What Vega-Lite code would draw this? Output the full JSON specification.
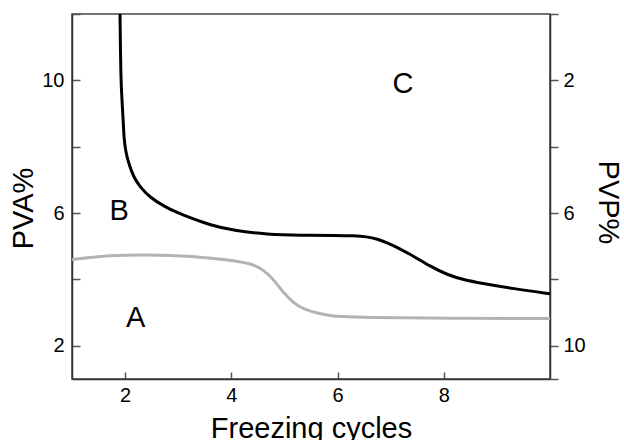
{
  "$schema": "https://vega.github.io/schema/vega-lite/v6.json",
  "width": 478,
  "height": 365,
  "autosize": {"type": "none"},
  "padding": {"left": 72, "top": 14, "right": 74, "bottom": 61},
  "background": "white",
  "config": {
    "view": {"stroke": "#444", "strokeWidth": 1.5},
    "font": "Liberation Sans",
    "axis": {
      "grid": false,
      "domainColor": "#333",
      "domainWidth": 1.5,
      "tickColor": "#555",
      "tickWidth": 1.5,
      "labelColor": "#000",
      "titleColor": "#000",
      "labelFont": "Liberation Sans",
      "titleFont": "Liberation Sans",
      "labelFontSize": 20,
      "titleFontSize": 29,
      "titleFontWeight": "normal",
      "labelFlush": false,
      "labelOverlap": false
    }
  },
  "datasets": {
    "curves": [
      {"curve": "black", "cycles": 1.904, "pva": 12.0},
      {"curve": "black", "cycles": 1.919, "pva": 10.0},
      {"curve": "black", "cycles": 1.945, "pva": 9.3},
      {"curve": "black", "cycles": 1.964, "pva": 8.79},
      {"curve": "black", "cycles": 1.978, "pva": 8.28},
      {"curve": "black", "cycles": 2.007, "pva": 7.88},
      {"curve": "black", "cycles": 2.07, "pva": 7.48},
      {"curve": "black", "cycles": 2.164, "pva": 7.07},
      {"curve": "black", "cycles": 2.29, "pva": 6.77},
      {"curve": "black", "cycles": 2.478, "pva": 6.46},
      {"curve": "black", "cycles": 2.73, "pva": 6.21},
      {"curve": "black", "cycles": 2.98, "pva": 6.01},
      {"curve": "black", "cycles": 3.23, "pva": 5.86},
      {"curve": "black", "cycles": 3.6, "pva": 5.64},
      {"curve": "black", "cycles": 4.04, "pva": 5.47},
      {"curve": "black", "cycles": 4.68, "pva": 5.36},
      {"curve": "black", "cycles": 5.30, "pva": 5.33},
      {"curve": "black", "cycles": 6.0, "pva": 5.33},
      {"curve": "black", "cycles": 6.3, "pva": 5.32},
      {"curve": "black", "cycles": 6.55, "pva": 5.29},
      {"curve": "black", "cycles": 6.75, "pva": 5.22},
      {"curve": "black", "cycles": 6.95, "pva": 5.10},
      {"curve": "black", "cycles": 7.12, "pva": 4.97},
      {"curve": "black", "cycles": 7.436, "pva": 4.70},
      {"curve": "black", "cycles": 7.75, "pva": 4.39},
      {"curve": "black", "cycles": 8.065, "pva": 4.14},
      {"curve": "black", "cycles": 8.377, "pva": 3.99},
      {"curve": "black", "cycles": 8.69, "pva": 3.89},
      {"curve": "black", "cycles": 9.32, "pva": 3.72},
      {"curve": "black", "cycles": 10.0, "pva": 3.57},
      {"curve": "gray", "cycles": 1.0, "pva": 4.60},
      {"curve": "gray", "cycles": 1.72, "pva": 4.73},
      {"curve": "gray", "cycles": 2.35, "pva": 4.75},
      {"curve": "gray", "cycles": 3.29, "pva": 4.71},
      {"curve": "gray", "cycles": 3.98, "pva": 4.58},
      {"curve": "gray", "cycles": 4.355, "pva": 4.49},
      {"curve": "gray", "cycles": 4.61, "pva": 4.29},
      {"curve": "gray", "cycles": 4.80, "pva": 3.99},
      {"curve": "gray", "cycles": 4.99, "pva": 3.58},
      {"curve": "gray", "cycles": 5.18, "pva": 3.28},
      {"curve": "gray", "cycles": 5.36, "pva": 3.10},
      {"curve": "gray", "cycles": 5.62, "pva": 2.98},
      {"curve": "gray", "cycles": 5.87, "pva": 2.91},
      {"curve": "gray", "cycles": 6.06, "pva": 2.88},
      {"curve": "gray", "cycles": 6.49, "pva": 2.85},
      {"curve": "gray", "cycles": 8.13, "pva": 2.83},
      {"curve": "gray", "cycles": 10.0, "pva": 2.82}
    ],
    "labels": [
      {"cycles": 2.20, "pva": 2.83, "region": "A"},
      {"cycles": 1.89, "pva": 6.05, "region": "B"},
      {"cycles": 7.23, "pva": 9.90, "region": "C"}
    ],
    "pvp": [
      {"pvp": 0},
      {"pvp": 11}
    ]
  },
  "layer": [
    {
      "layer": [
        {
          "data": {"name": "curves"},
          "mark": {"type": "line", "interpolate": "basis", "strokeWidth": 3, "clip": true},
          "encoding": {
            "x": {
              "field": "cycles", "type": "quantitative",
              "scale": {"domain": [1, 10], "nice": false, "zero": false},
              "axis": {
                "values": [2, 4, 6, 8],
                "tickSize": -7,
                "labelPadding": 13,
                "title": "Freezing cycles",
                "titleX": 239,
                "titleY": 58,
                "titleBaseline": "alphabetic",
                "titleAlign": "center"
              }
            },
            "y": {
              "field": "pva", "type": "quantitative",
              "scale": {"domain": [1, 12], "nice": false, "zero": false},
              "axis": {
                "orient": "left",
                "values": [2, 4, 6, 8, 10, 12],
                "labelExpr": "datum.value == 2 || datum.value == 6 || datum.value == 10 ? datum.label : ''",
                "tickSize": -8,
                "labelPadding": 16,
                "title": "PVA%",
                "titleAngle": -90,
                "titleX": -49,
                "titleY": 194,
                "titleAlign": "center",
                "titleBaseline": "middle"
              }
            },
            "color": {
              "field": "curve", "type": "nominal",
              "scale": {"domain": ["black", "gray"], "range": ["#000000", "#b3b3b3"]},
              "legend": null
            }
          }
        },
        {
          "data": {"name": "labels"},
          "mark": {"type": "text", "fontSize": 29, "font": "Liberation Sans", "color": "#000", "baseline": "middle", "align": "center"},
          "encoding": {
            "x": {"field": "cycles", "type": "quantitative"},
            "y": {"field": "pva", "type": "quantitative"},
            "text": {"field": "region"}
          }
        }
      ]
    },
    {
      "data": {"name": "pvp"},
      "mark": {"type": "point", "opacity": 0},
      "encoding": {
        "y": {
          "field": "pvp", "type": "quantitative",
          "scale": {"domain": [0, 11], "nice": false, "zero": false, "reverse": true},
          "axis": {
            "orient": "right",
            "values": [0, 2, 4, 6, 8, 10, 11],
            "labelExpr": "datum.value == 2 || datum.value == 6 || datum.value == 10 ? datum.label : ''",
            "tickSize": 8,
            "labelPadding": 5,
            "title": "PVP%",
            "titleAngle": 90,
            "titleX": 57,
            "titleY": 188,
            "titleAlign": "center",
            "titleBaseline": "middle"
          }
        }
      }
    }
  ],
  "resolve": {"scale": {"y": "independent"}}
}
